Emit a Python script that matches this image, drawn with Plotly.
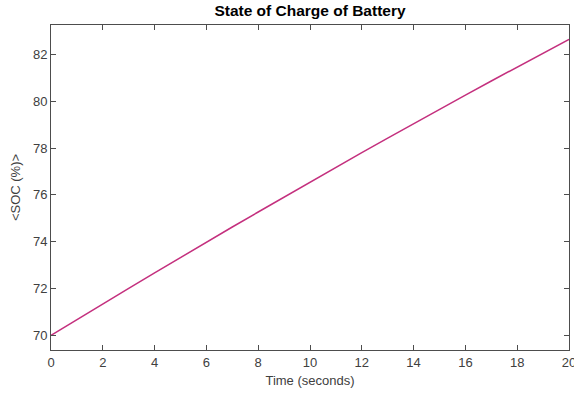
import plotly.graph_objects as go

# Battery state of charge over the simulated interval
time_s = [0, 1, 2, 3, 4, 5, 6, 7, 8, 9, 10, 11, 12, 13, 14, 15, 16, 17, 18, 19, 20]
soc_pct = [70.00, 70.68, 71.35, 72.01, 72.67, 73.33, 73.98, 74.63, 75.27, 75.91,
           76.55, 77.18, 77.80, 78.42, 79.04, 79.65, 80.26, 80.86, 81.46, 82.06, 82.64]

x_ticks = [0, 2, 4, 6, 8, 10, 12, 14, 16, 18, 20]
y_ticks = [70, 72, 74, 76, 78, 80, 82]

FONT = "Liberation Sans, Arial, Helvetica, sans-serif"
AXIS_COLOR = "#4d4d4d"
TEXT_COLOR = "#404040"

fig = go.Figure()
fig.add_trace(go.Scatter(
    x=time_s, y=soc_pct, mode="lines",
    line=dict(color="#c4307e", width=1.5),
    showlegend=False, hoverinfo="skip",
))

axis_common = dict(
    showgrid=False, zeroline=False, automargin=False,
    showline=True, linecolor=AXIS_COLOR, linewidth=1,
    mirror="ticks", ticks="inside", ticklen=5, tickcolor=AXIS_COLOR, tickwidth=1,
    tickfont=dict(family=FONT, size=13, color=TEXT_COLOR),
    ticklabeloverflow="allow",
)

fig.update_layout(
    width=574, height=395,
    margin=dict(l=51, r=5, t=25, b=45),
    paper_bgcolor="white", plot_bgcolor="white",
    title=dict(
        text="<b>State of Charge of Battery</b>",
        font=dict(family=FONT, size=15.5, color="#000000"),
        x=0.5, xref="paper", xanchor="center",
        y=1 - 11 / 395, yref="container", yanchor="middle",
        automargin=False,
    ),
    xaxis=dict(
        range=[0, 20], tickvals=x_ticks,
        title=dict(text="Time (seconds)", font=dict(family=FONT, size=13, color=TEXT_COLOR), standoff=7),
        **axis_common,
    ),
    yaxis=dict(
        range=[69.38, 83.25], tickvals=y_ticks,
        title=dict(text="<SOC (%)>", font=dict(family=FONT, size=13, color=TEXT_COLOR), standoff=9),
        **axis_common,
    ),
)

fig.write_html("out.html")
